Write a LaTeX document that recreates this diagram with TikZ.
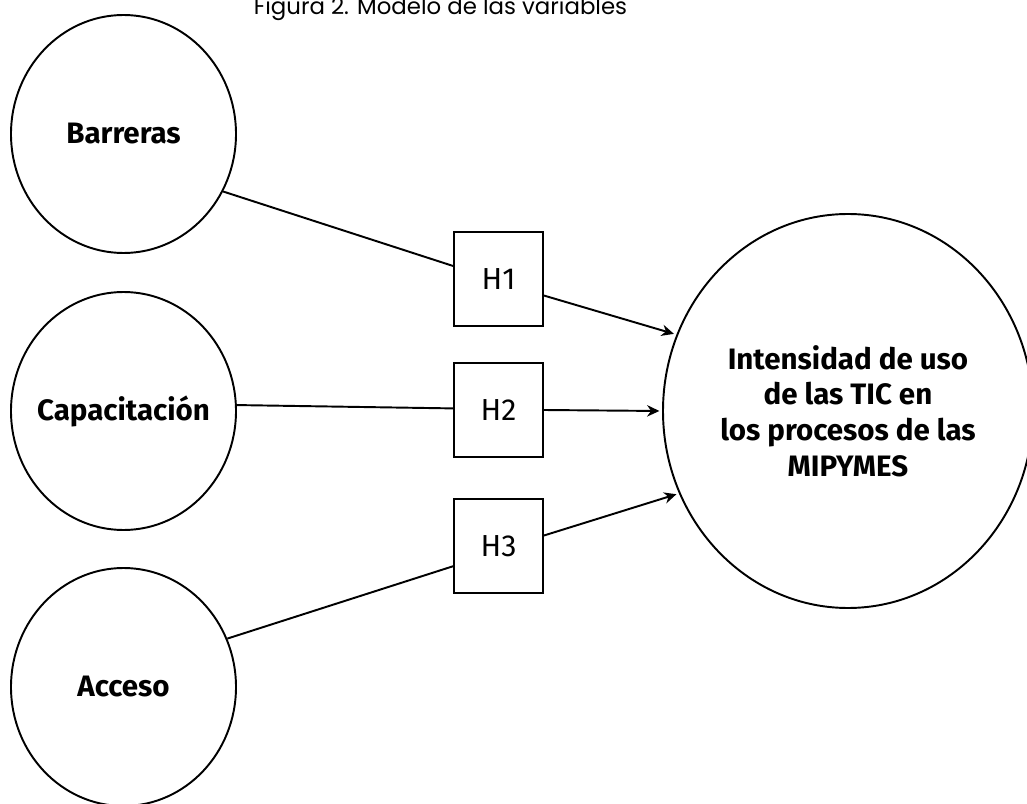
\documentclass[tikz,border=0pt]{standalone}
\usepackage{fontspec}
\setmainfont{Fira Sans}
\newfontfamily\titlefont{Poppins}
\usepackage{tikz}
\usetikzlibrary{arrows.meta,shapes.geometric}
\tikzset{
	var/.style={draw, ellipse, line width=1.1pt, minimum width=4.5cm, minimum height=4.76cm, inner sep=0pt, label={[font=\fontsize{16.8}{20.3}\selectfont\bfseries, align=center]center:#1}},
	hyp/.style={draw, rectangle, line width=1.1pt, minimum width=1.78cm, minimum height=1.88cm, inner sep=0pt, font=\fontsize{17.3}{20.3}\selectfont},
	link/.style={line width=1.1pt},
	arrowlink/.style={line width=1.1pt, -{Stealth[length=7pt,width=6.5pt]}, shorten >=1.5pt}
}

\begin{document}
\begin{tikzpicture}
				%%%%% START %%%%%
				\useasboundingbox (0, 0) rectangle (20.54, -16.08);
				
				\node[anchor=base, font=\titlefont\fontsize{13}{15}\selectfont] (title) at (8.81, -0.30) {Figura 2. Modelo de las variables};
				
				\node[var=Barreras] (bar) at (2.47, -2.68) {};
				\node[var=Capacitación] (cap) at (2.47, -8.22) {};
				\node[var=Acceso] (acc) at (2.47, -13.74) {};
				
				\node[var={Intensidad de uso\\ de las TIC en\\ los procesos de las\\ MIPYMES}, minimum width=7.4cm, minimum height=7.88cm] (int) at (16.96, -8.22) {};
				
				\node[hyp] (h1) at (9.97, -5.58) {H1};
				\node[hyp] (h2) at (9.97, -8.20) {H2};
				\node[hyp] (h3) at (9.97, -10.92) {H3};
				
				\draw[link] (bar.-30) -- (h1.164);
				\draw[arrowlink] (h1.-20) -- (int.156);
				
				\draw[link] (cap.3) -- (h2.178);
				\draw[arrowlink] (h2.east) -- (int.west);
				
				\draw[link] (acc.25) -- (h3.204);
				\draw[arrowlink] (h3.13) -- (int.206);
				%%%%% END %%%%%
\end{tikzpicture}
\end{document}
